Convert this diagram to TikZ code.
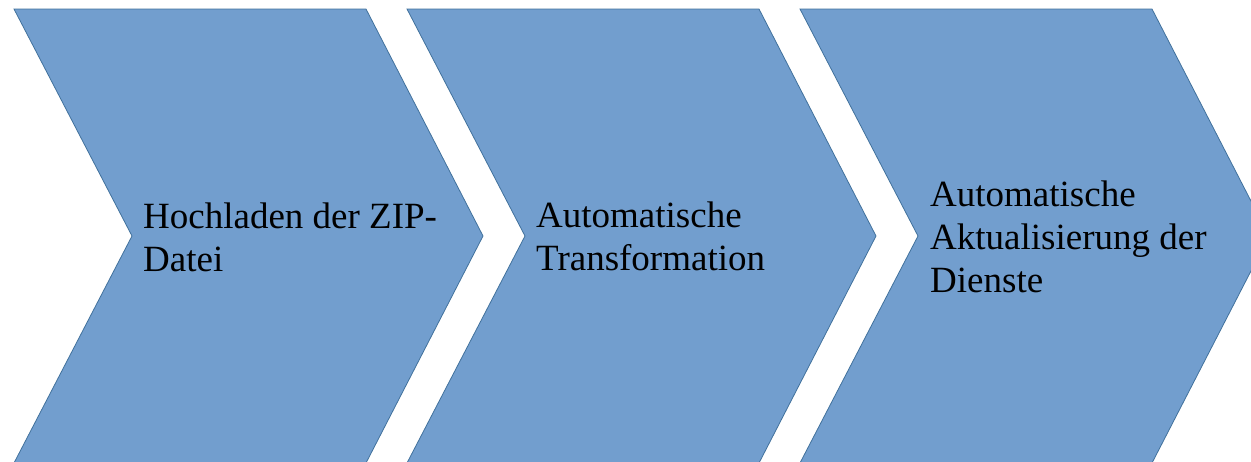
\documentclass[tikz,border=0pt]{standalone}
\usepackage{fontspec}
\setmainfont{Liberation Serif}
\definecolor{chevfill}{RGB}{114,158,206}
\definecolor{chevline}{RGB}{65,113,156}

\tikzset{
  chevron/.style={fill=chevfill, draw=chevline, line width=0.8pt},
  steptext/.style={anchor=base west, align=left, inner sep=0pt, font=\fontsize{37}{43}\selectfont}
}

\begin{document}
\begin{tikzpicture}[x=1pt, y=-1pt]
    % Fix the frame
    \useasboundingbox (0,0) rectangle (1251,461);
    \clip (0,0) rectangle (1251,461);
    % Draw the chevrons
    \draw[chevron] (14,9) -- (366,9) -- (483,236) -- (366,463) -- (14,463) -- (132,236) -- cycle;
    \draw[chevron] (407,9) -- (759,9) -- (876,236) -- (759,463) -- (407,463) -- (525,236) -- cycle;
    \draw[chevron] (800,9) -- (1152,9) -- (1269,236) -- (1152,463) -- (800,463) -- (918,236) -- cycle;
    % Label the steps (base = last line)
    \node[steptext] (upload) at (143,271) {Hochladen der ZIP-\\Datei};
    \node[steptext] (transform) at (536,270) {Automatische\\Transformation};
    \node[steptext] (update) at (930,292) {Automatische\\Aktualisierung der\\Dienste};
\end{tikzpicture}
\end{document}
